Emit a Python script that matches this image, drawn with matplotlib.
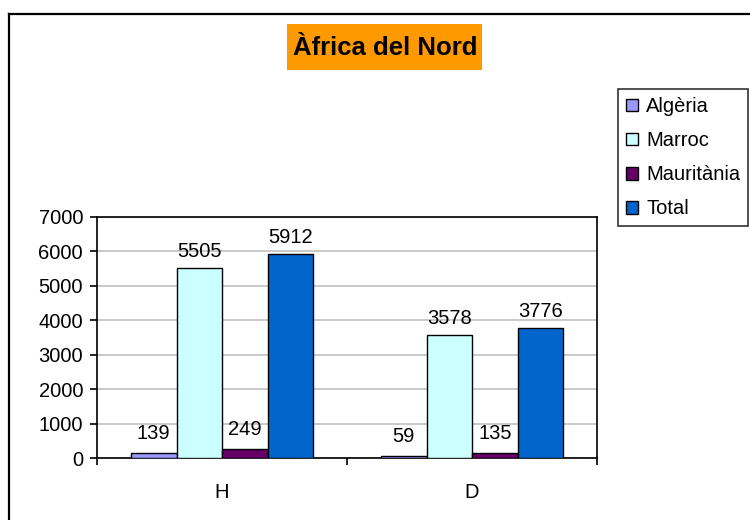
import numpy as np
import matplotlib
matplotlib.use('Agg')
import matplotlib.pyplot as plt
from matplotlib.patches import Rectangle
from matplotlib.lines import Line2D

plt.rcParams['font.family'] = ['Liberation Sans', 'DejaVu Sans']

categories = ['H', 'D']
series = ['Algèria', 'Marroc', 'Mauritània', 'Total']
algeria = [139, 59]
marroc = [5505, 3578]
mauritania = [249, 135]
total = [5912, 3776]
colors = ['#9999FF', '#CCFFFF', '#660066', '#0066CC']

values = [algeria, marroc, mauritania, total]

fig = plt.figure(figsize=(7.5, 5.2), dpi=100)
ax = fig.add_axes([97/750, 1-458/520, 500/750, 241/520])

x = np.arange(len(categories))
width = 0.182
for i, (name, vals) in enumerate(zip(series, values)):
    pos = x + (i - 1.5) * width
    bars = ax.bar(pos, vals, width, color=colors[i], edgecolor='black',
                  linewidth=1.0, label=name, zorder=3)
    for b, v in zip(bars, vals):
        # small bars get a little more room, like the original
        off = 14 if v < 1000 else 12
        ax.annotate(str(v), (b.get_x() + b.get_width()/2, v),
                    xytext=(0, off), textcoords='offset points',
                    ha='center', va='center', fontsize=14.5)

ax.set_xlim(-0.5, 1.5)
ax.set_ylim(0, 7000)
ax.set_yticks(range(0, 7001, 1000))
ax.yaxis.grid(True, color='#C0C0C0', linewidth=1.2, zorder=0)
ax.set_axisbelow(True)
ax.set_xticks([-0.5, 0.5, 1.5], minor=False)
ax.set_xticklabels(['', '', ''])
ax.set_xticks(x, minor=True)
ax.set_xticklabels(categories, minor=True)
ax.tick_params(axis='x', which='minor', length=0, pad=18, labelsize=14.5)
ax.tick_params(axis='x', which='major', length=5, width=1.2, direction='out')
ax.tick_params(axis='y', length=5, width=1.2, direction='out', labelsize=14.5, pad=5)
for s in ax.spines.values():
    s.set_linewidth(1.2)
    s.set_color('black')

# title box
fig.patches.append(Rectangle((287/750, 1-70/520), 195/750, 46/520,
                             transform=fig.transFigure, facecolor='#FF9900',
                             edgecolor='none'))
fig.text(385/750, 1-48/520, 'Àfrica del Nord', ha='center', va='center',
         fontsize=18.5, fontweight='bold')

# outer frame
fig.add_artist(Line2D([9/750, 9/750], [0, 1-14/520], transform=fig.transFigure,
                      color='black', linewidth=1.6))
fig.add_artist(Line2D([9/750, 1], [1-14/520, 1-14/520], transform=fig.transFigure,
                      color='black', linewidth=1.6))

leg = fig.legend(loc='upper left', bbox_to_anchor=(618/750, 1-89/520),
                 fontsize=14.5, frameon=True, fancybox=False, edgecolor='black',
                 handlelength=0.6, handleheight=0.6, handletextpad=0.4,
                 labelspacing=0.75, borderpad=0.4, borderaxespad=0)
leg.get_frame().set_linewidth(1.2)

fig.savefig('out.png', dpi=100)
